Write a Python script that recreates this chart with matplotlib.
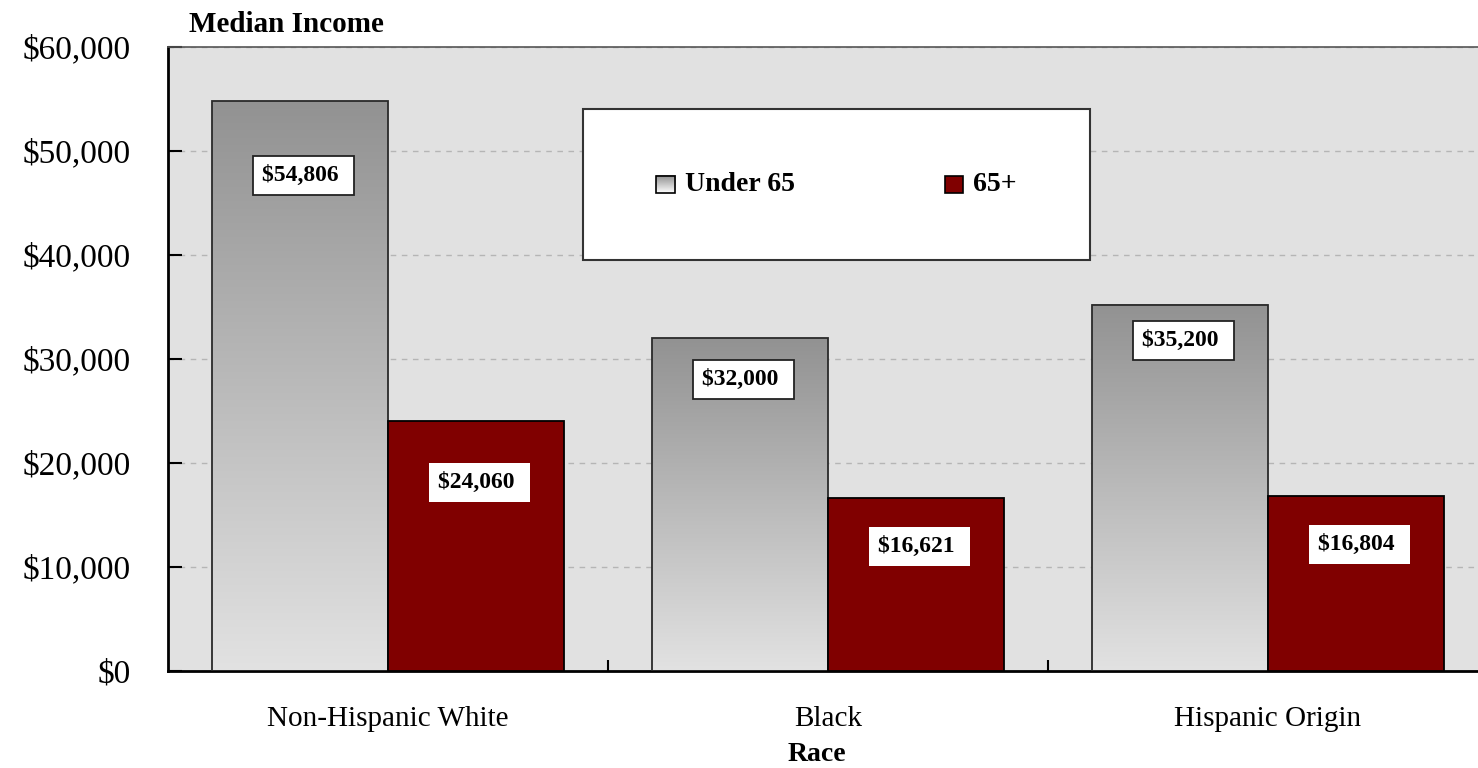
import numpy as np
import matplotlib
matplotlib.use("Agg")
import matplotlib.pyplot as plt
from matplotlib.patches import Rectangle
from matplotlib.colors import LinearSegmentedColormap
from matplotlib.ticker import FuncFormatter, FixedLocator

races = ["Non-Hispanic White", "Black", "Hispanic Origin"]
under65 = [54806, 32000, 35200]
over65 = [24060, 16621, 16804]
under65_labels = ["$54,806", "$32,000", "$35,200"]
over65_labels = ["$24,060", "$16,621", "$16,804"]

# where the value boxes sit inside the bars (data y)
under65_label_y = [47650, 28030, 31780]
over65_label_y = [18170, 11950, 12210]

plt.rcParams["font.family"] = ["Liberation Serif", "DejaVu Serif"]

fig = plt.figure(figsize=(14.78, 7.68), dpi=100)
ax = fig.add_axes([168 / 1478, 97 / 768, 1320 / 1478, 624 / 768])
ax.set_facecolor("#e1e1e1")

x = np.arange(len(races))
w = 0.4
gray_bars = ax.bar(x - w / 2, under65, w, color="none", edgecolor="#2a2a2a",
                   linewidth=1.3, zorder=3)
red_bars = ax.bar(x + w / 2, over65, w, color="#800000", edgecolor="black",
                  linewidth=1.3, zorder=3)

# vertical gradient fill for the under-65 bars
grad = np.linspace(0, 1, 256).reshape(-1, 1)
cmap = LinearSegmentedColormap.from_list("g", ["#929292", "#e2e2e2"])
for b in gray_bars:
    x0, h = b.get_x(), b.get_height()
    ax.imshow(grad, cmap=cmap, aspect="auto", interpolation="bilinear",
              extent=(x0, x0 + b.get_width(), 0, h), zorder=2)

ax.set_xlim(-0.5, 2.5)
ax.set_ylim(0, 60000)

# gridlines
ax.set_yticks(np.arange(0, 60001, 10000))
ax.yaxis.grid(True, linestyle=(0, (4, 4)), color="#b5b5b5", linewidth=1.0)
ax.set_axisbelow(True)
ax.yaxis.set_major_formatter(FuncFormatter(lambda v, p: "${:,.0f}".format(v)))
ax.tick_params(axis="y", direction="in", length=10, width=1.5, labelsize=24,
               pad=27, colors="black")

ax.set_xticks(x)
ax.set_xticklabels(races)
ax.tick_params(axis="x", which="major", length=0, labelsize=21, pad=25)
ax.xaxis.set_minor_locator(FixedLocator([0.5, 1.5]))
ax.tick_params(axis="x", which="minor", direction="in", length=8, width=1.5)

for s in ["left", "bottom"]:
    ax.spines[s].set_linewidth(2)
    ax.spines[s].set_color("black")
ax.spines["top"].set_linewidth(1.2)
ax.spines["top"].set_color("#555555")
ax.spines["right"].set_visible(False)

# value boxes (trailing space leaves the text sitting left in its box)
for i in range(len(races)):
    ax.text(x[i] - w / 2 + 0.008, under65_label_y[i], under65_labels[i] + " ",
            ha="center", va="center", fontsize=17, fontweight="bold", zorder=5,
            bbox=dict(boxstyle="square,pad=0.38", fc="white", ec="#222222", lw=1.3))
    ax.text(x[i] + w / 2 + 0.008, over65_label_y[i], over65_labels[i] + " ",
            ha="center", va="center", fontsize=17, fontweight="bold", zorder=5,
            bbox=dict(boxstyle="square,pad=0.38", fc="white", ec="none"))

# legend box
ax.add_patch(Rectangle((0.3144, 0.6587), 0.3841, 0.2419, transform=ax.transAxes,
                       fc="white", ec="#333333", lw=1.5, zorder=6))
ax.imshow(grad, cmap=LinearSegmentedColormap.from_list("l", ["#8c8c8c", "#ffffff"]),
          aspect="auto", extent=(0.3697, 0.3841, 0.7660, 0.7933),
          transform=ax.transAxes, zorder=7)
ax.add_patch(Rectangle((0.3697, 0.7660), 0.0144, 0.0273, transform=ax.transAxes,
                       fc="none", ec="black", lw=1.2, zorder=8))
ax.add_patch(Rectangle((0.5886, 0.7660), 0.0137, 0.0273, transform=ax.transAxes,
                       fc="#800000", ec="black", lw=1.2, zorder=8))
ax.text(0.3917, 0.7796, "Under 65", transform=ax.transAxes, ha="left", va="center",
        fontsize=20, fontweight="bold", zorder=8)
ax.text(0.6098, 0.7796, "65+", transform=ax.transAxes, ha="left", va="center",
        fontsize=20, fontweight="bold", zorder=8)

fig.text(189 / 1478, 1 - 32 / 768, "Median Income", fontsize=21, fontweight="bold",
         ha="left", va="baseline")
fig.text(817 / 1478, 7 / 768, "Race", fontsize=20, fontweight="bold",
         ha="center", va="baseline")

fig.savefig("out.png", dpi=100)
